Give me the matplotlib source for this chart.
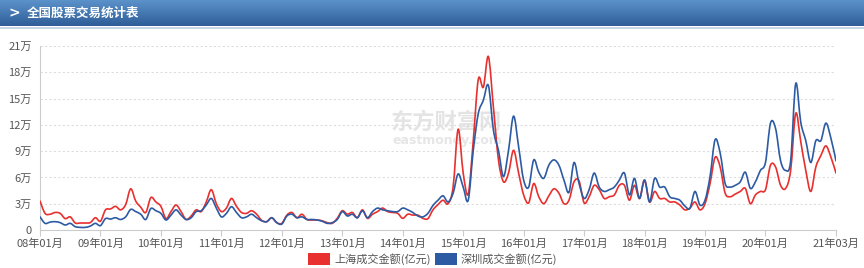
import numpy as np
import matplotlib
matplotlib.use("Agg")
from matplotlib import pyplot as plt
from matplotlib.patches import Rectangle, PathPatch
from matplotlib.path import Path
from matplotlib.colors import LinearSegmentedColormap

plt.rcParams['font.family'] = ['Noto Sans CJK SC', 'DejaVu Sans']

title = "全国股票交易统计表"
series_names = ["上海成交金额(亿元)", "深圳成交金额(亿元)"]

# monthly turnover, 亿元, 2008-01 .. 2021-03
sh_amount = [
    33000, 19000, 18000, 20000, 19000, 13000, 15000, 8000, 8000, 8000, 8500, 14000,
    10000, 23000, 24000, 27000, 23000, 29000, 47000, 33000, 26000, 20000, 37000, 32000,
    27000, 13000, 21000, 28500, 21000, 12000, 16000, 23000, 21000, 32000, 46000, 30000,
    21000, 25000, 36000, 27000, 20000, 19000, 22000, 18000, 11000, 9500, 14000, 8400,
    7600, 17000, 20000, 14000, 18000, 12000, 11400, 11400, 10500, 8400, 7600, 13300,
    22000, 18000, 20000, 14000, 23000, 13300, 18000, 21000, 25000, 21000, 20000, 19000,
    13300, 18000, 17000, 17000, 13300, 13000, 23000, 29000, 34000, 30000, 49000, 115000,
    65000, 41000, 102000, 172000, 163000, 198000, 140000, 80000, 55000, 65000, 91000, 65000,
    40000, 31000, 53000, 38000, 30000, 39000, 47000, 42000, 30000, 34000, 55000, 56000,
    31000, 38000, 51000, 46000, 36000, 38000, 40000, 51000, 51000, 34000, 51000, 36000,
    57000, 32000, 44000, 36000, 36000, 32000, 32000, 28500, 23000, 25000, 32000, 23000,
    30000, 53000, 83000, 72000, 42000, 38000, 41000, 44000, 47500, 30000, 40000, 44000,
    46000, 74000, 72000, 51000, 47500, 68000, 133000, 101000, 68000, 44000, 72000, 85000,
    96000, 83000, 65000,
]
sz_amount = [
    15000, 7600, 9000, 9500, 8400, 5700, 7600, 3800, 3000, 3000, 4500, 7600,
    5000, 13000, 12500, 14000, 12000, 15000, 23500, 21000, 18000, 12000, 24500, 22000,
    19000, 11400, 17000, 23000, 17000, 12000, 14000, 21000, 22000, 28500, 36000, 25000,
    15000, 19000, 26600, 20000, 14000, 15000, 18000, 14000, 10500, 9500, 14000, 8400,
    6800, 16000, 18000, 14000, 15000, 12000, 12000, 11400, 10000, 7600, 8400, 12000,
    21000, 16000, 18000, 14000, 22000, 14000, 21000, 25000, 23000, 22000, 21000, 21000,
    25000, 23000, 20000, 16000, 15000, 19000, 28000, 34000, 39000, 32000, 42000, 64000,
    49000, 34000, 91000, 133000, 148000, 165000, 114000, 91000, 61000, 91000, 130000, 95000,
    57000, 49000, 80000, 66000, 59000, 74000, 80000, 74000, 57000, 43000, 77000, 53000,
    36000, 46000, 65000, 49000, 44000, 46000, 49000, 57000, 65000, 40000, 59000, 36000,
    57000, 32000, 59000, 49000, 49000, 38000, 36000, 34000, 27400, 24700, 44000, 28500,
    34000, 61000, 103000, 88000, 53000, 49000, 51000, 55000, 66000, 47500, 55000, 68000,
    77000, 122000, 116000, 79000, 68000, 79000, 167000, 123000, 102000, 77000, 102000, 102000,
    122000, 104500, 79000,
]

x_labels = ["08年01月", "09年01月", "10年01月", "11年01月", "12年01月", "13年01月",
            "14年01月", "15年01月", "16年01月", "17年01月", "18年01月", "19年01月",
            "20年01月", "21年03月"]
x_label_pos = [0, 12, 24, 36, 48, 60, 72, 84, 96, 108, 120, 132, 144, 158]
y_ticks = [0, 30000, 60000, 90000, 120000, 150000, 180000, 210000]
y_labels = ["0", "3万", "6万", "9万", "12万", "15万", "18万", "21万"]

RED = "#e8302e"
BLUE = "#2d5ba3"


def smooth_path(xs, ys):
    # smooth curve through the points (cubic bezier, catmull-rom tangents)
    p = np.column_stack([xs, ys]).astype(float)
    n = len(p)
    verts = [p[0]]
    codes = [Path.MOVETO]
    for i in range(n - 1):
        p0 = p[max(i - 1, 0)]
        p1, p2 = p[i], p[i + 1]
        p3 = p[min(i + 2, n - 1)]
        verts += [p1 + (p2 - p0) / 6, p2 - (p3 - p1) / 6, p2]
        codes += [Path.CURVE4] * 3
    return Path(verts, codes)


W, H = 864, 268
fig = plt.figure(figsize=(W / 100, H / 100), dpi=100)

# header bar
hdr = fig.add_axes([0, 1 - 26 / H, 1, 26 / H])
grad = np.linspace(0, 1, 50).reshape(-1, 1)
cmap = LinearSegmentedColormap.from_list("hdr", ["#5b92c9", "#2f5e98"])
hdr.imshow(grad, aspect="auto", cmap=cmap, extent=[0, 1, 0, 1], origin="upper")
hdr.set_axis_off()
fig.add_artist(Rectangle((0, 1 - 28.5 / H), 1, 1.5 / H, transform=fig.transFigure,
                         color="#c9d6e6", lw=0))
fig.text(8 / W, 1 - 13 / H, ">", color="white", fontsize=10, fontweight="bold",
         va="center", ha="left", family=["DejaVu Sans"])
fig.text(27 / W, 1 - 13.5 / H, title, color="white", fontsize=9, fontweight="bold",
         va="center", ha="left")

ax = fig.add_axes([40 / W, 1 - 230 / H, 796 / W, 184 / H])
x = np.arange(len(sh_amount))

# watermark
ax.text(0.44, 0.584, "东方财富网", transform=ax.transAxes, fontsize=16, fontweight="bold",
        color="#e4e4e4", ha="left", va="center", zorder=0)
ax.text(0.443, 0.489, "eastmoney.com", transform=ax.transAxes, fontsize=9,
        fontweight="bold", color="#e6e6e6", ha="left", va="center", zorder=0,
        family=["DejaVu Sans"])

for vals, col in [(sh_amount, RED), (sz_amount, BLUE)]:
    ax.add_patch(PathPatch(smooth_path(x, vals), facecolor="none", edgecolor=col,
                           lw=1.2, zorder=3, capstyle="round", joinstyle="round"))

ax.set_xlim(0, len(sh_amount) - 1)
ax.set_ylim(0, 210000)
ax.set_yticks(y_ticks)
ax.set_yticklabels(y_labels)
ax.set_xticks(x_label_pos)
ax.set_xticklabels(x_labels)
ax.tick_params(axis="y", length=0, pad=6, labelsize=8, labelcolor="#555555")
ax.tick_params(axis="x", length=4, width=0.8, color="#cccccc", pad=2,
               labelsize=8, labelcolor="#555555")
ax.grid(axis="y", color="#dddddd", ls=(0, (2, 2)), lw=0.8)
for s in ["top", "right"]:
    ax.spines[s].set_visible(False)
ax.spines["left"].set_color("#cccccc")
ax.spines["bottom"].set_color("#cccccc")

# legend
for i, (name, col) in enumerate(zip(series_names, [RED, BLUE])):
    x0 = [308, 435][i]
    fig.add_artist(Rectangle((x0 / W, 1 - 265 / H), 22 / W, 12 / H,
                             transform=fig.transFigure, color=col, lw=0))
    fig.text((x0 + 26) / W, 1 - 259 / H, name, fontsize=8, color="#555555",
             va="center", ha="left")

fig.savefig("out.png", dpi=100)
